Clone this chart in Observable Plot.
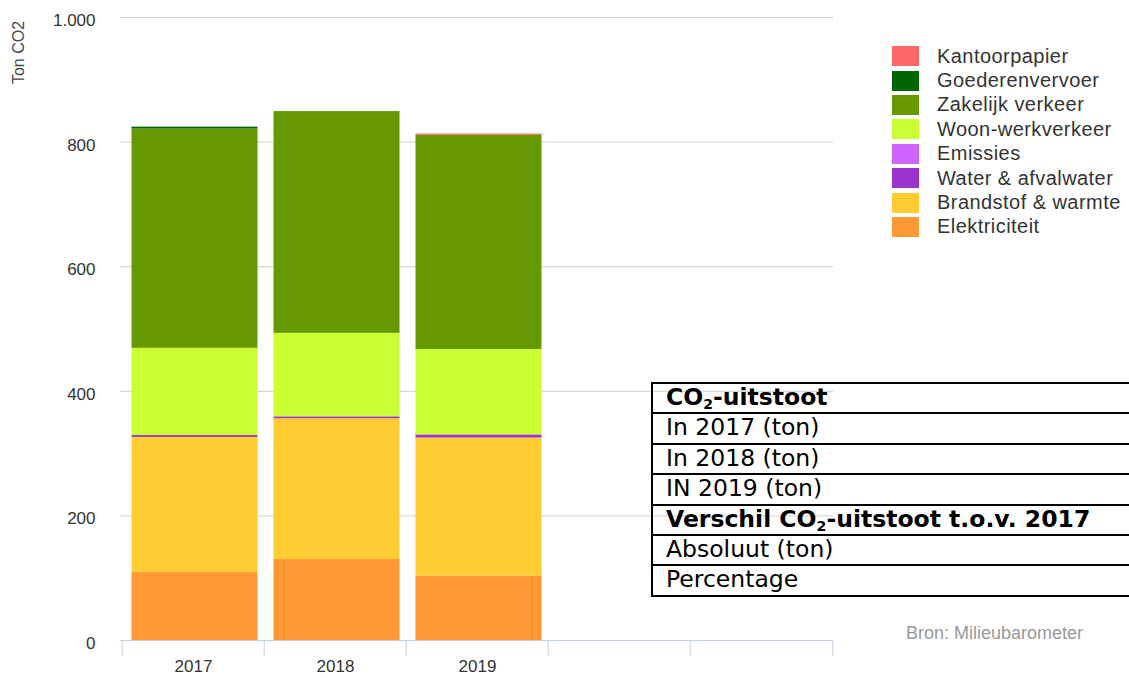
<!DOCTYPE html>
<html>
<head>
<meta charset="utf-8">
<script src="https://cdn.jsdelivr.net/npm/d3@7"></script>
<script src="https://cdn.jsdelivr.net/npm/@observablehq/plot@0.6"></script>
<style>
  html, body { margin: 0; padding: 0; background: #fff; }
  #wrap { position: relative; width: 1129px; height: 678px; overflow: hidden; }
  #legend { position: absolute; left: 892px; top: 44px; font-family: "Liberation Sans", Arial, sans-serif; font-size: 20px; color: #333; letter-spacing: 0.45px; }
  .li { display: flex; align-items: center; height: 24.4px; }
  .sw { width: 27px; height: 20px; margin-right: 18px; flex: none; }
  #caption { position: absolute; left: 906px; top: 623px; font-family: "Liberation Sans", Arial, sans-serif; font-size: 18px; color: #999; }
  #tbl { position: absolute; left: 651px; top: 382px; width: 482px; font-family: "DejaVu Sans", Verdana, sans-serif; font-size: 23.5px; color: #000; }
  .row { box-sizing: border-box; height: 30.4px; border: 2px solid #000; border-bottom: none; padding-left: 13px; line-height: 27px; white-space: nowrap; }
  .row:last-child { border-bottom: 2px solid #000; height: 32.4px; }
  .b { font-weight: bold; }
  sub { font-size: 0.6em; vertical-align: -0.25em; line-height: 0; }
</style>
</head>
<body>
<div id="wrap"></div>
<script>
// ---- data ----
const categories = ["2017", "2018", "2019", "c4", "c5"];
const tickLabels = ["2017", "2018", "2019", "", ""];
const years = ["2017", "2018", "2019"];
const seriesNames = ["Elektriciteit", "Brandstof & warmte", "Water & afvalwater", "Emissies", "Woon-werkverkeer", "Zakelijk verkeer", "Goederenvervoer", "Kantoorpapier"];
const seriesColors = ["#FF9933", "#FFCC33", "#9933CC", "#CC66FF", "#CCFF33", "#669900", "#006600", "#FF6666"];
const elektriciteit = [109, 130, 103];
const brandstof = [217, 226, 222];
const water = [3, 3, 5];
const emissies = [0, 0, 0];
const woonwerk = [140, 134, 137];
const zakelijk = [352, 356, 344];
const goederen = [3, 0, 0];
const kantoorpapier = [0, 0, 2];
const yTicks = [0, 200, 400, 600, 800, 1000];
const gridTicks = [200, 400, 600, 800, 1000];
const legendOrder = ["Kantoorpapier", "Goederenvervoer", "Zakelijk verkeer", "Woon-werkverkeer", "Emissies", "Water & afvalwater", "Brandstof & warmte", "Elektriciteit"];
const tableRows = [
  {html: "CO<sub>2</sub>-uitstoot", bold: true},
  {html: "In 2017 (ton)"},
  {html: "In 2018 (ton)"},
  {html: "IN 2019 (ton)"},
  {html: "Verschil CO<sub>2</sub>-uitstoot t.o.v. 2017", bold: true},
  {html: "Absoluut (ton)"},
  {html: "Percentage"}
];

const seriesValues = [elektriciteit, brandstof, water, emissies, woonwerk, zakelijk, goederen, kantoorpapier];
const data = years.flatMap((yr, i) => seriesValues.map((vals, j) => ({year: yr, series: seriesNames[j], value: vals[i]})));
const labelMap = Object.fromEntries(categories.map((c, i) => [c, tickLabels[i]]));

const W = 1129, H = 678, mL = 120, mR = 296, mT = 17, mB = 38;
const step = (W - mL - mR) / categories.length;
const axisColor = "#C0D0E0";

const chart = Plot.plot({
  width: W, height: H,
  marginLeft: mL, marginRight: mR, marginTop: mT, marginBottom: mB,
  style: {fontFamily: "'Liberation Sans', Arial, sans-serif", fontSize: "17px", color: "#333", background: "transparent", overflow: "visible"},
  x: {domain: categories, padding: 0, axis: null, label: null},
  y: {domain: [0, 1000], axis: null, label: null},
  color: {domain: seriesNames, range: seriesColors},
  marks: [
    Plot.gridY(gridTicks, {stroke: "#D0D0D0", strokeOpacity: 1}),
    Plot.barY(data, {x: "year", y: "value", fill: "series", insetLeft: 9.5, insetRight: 6.5}),
    Plot.ruleY([0], {stroke: axisColor}),
    Plot.axisX(categories, {tickSize: 16, text: null, stroke: axisColor, strokeOpacity: 1, dx: -step / 2, label: null}),
    Plot.axisX([categories[categories.length - 1]], {tickSize: 16, text: null, stroke: axisColor, strokeOpacity: 1, dx: step / 2, label: null}),
    Plot.axisX(categories, {tickSize: 0, tickPadding: 19, tickFormat: d => labelMap[d], fill: "#333", fontSize: 17, label: null}),
    Plot.axisY(yTicks, {tickSize: 0, tickPadding: 25, tickFormat: d => d3.format(",")(d).replace(/,/g, "."), fill: "#333", fontSize: 17, dy: 3, label: null}),
    Plot.text(["Ton CO2"], {frameAnchor: "top-left", text: d => d, rotate: -90, textAnchor: "middle", lineAnchor: "middle", dx: 18 - mL, dy: 52 - mT, fontSize: 16, fill: "#444"})
  ]
});

const wrap = document.getElementById("wrap");
wrap.appendChild(chart);

// legend
const legend = document.createElement("div");
legend.id = "legend";
legendOrder.forEach(name => {
  const row = document.createElement("div");
  row.className = "li";
  const sw = document.createElement("span");
  sw.className = "sw";
  sw.style.background = seriesColors[seriesNames.indexOf(name)];
  const t = document.createElement("span");
  t.textContent = name;
  row.appendChild(sw); row.appendChild(t);
  legend.appendChild(row);
});
wrap.appendChild(legend);

// caption
const cap = document.createElement("div");
cap.id = "caption";
cap.textContent = "Bron: Milieubarometer";
wrap.appendChild(cap);

// table
const tbl = document.createElement("div");
tbl.id = "tbl";
tableRows.forEach(r => {
  const d = document.createElement("div");
  d.className = "row" + (r.bold ? " b" : "");
  d.innerHTML = r.html;
  tbl.appendChild(d);
});
wrap.appendChild(tbl);
</script>
</body>
</html>
